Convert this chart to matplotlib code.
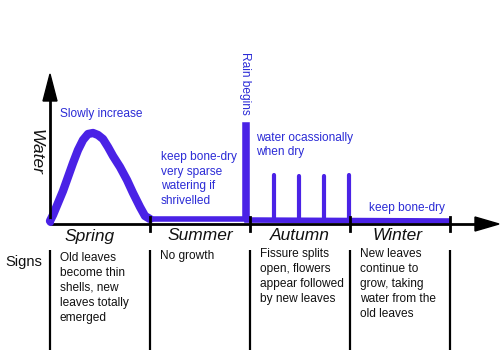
import matplotlib
matplotlib.use("Agg")
import matplotlib.pyplot as plt
from matplotlib.patches import Polygon

plt.rcParams['font.family'] = ['Liberation Sans', 'DejaVu Sans']

# Seasons along the time axis and their boundaries
seasons = ["Spring", "Summer", "Autumn", "Winter"]
season_label_x = [90, 200, 300, 397]
season_edges = [50, 150, 250, 350, 450]

# Water level curve (canvas units, larger y = lower on the page)
hump_x = [50, 53, 58, 63, 68, 73, 78, 83, 88, 93, 98, 103, 108, 113, 120, 127, 133, 140, 145, 150]
hump_y = [221, 215, 203, 191, 177, 163, 150, 140, 134, 133, 135, 139, 147, 156, 167, 180, 193, 207, 216, 219]
dry_x = [150, 245, 245, 247, 247, 450]
dry_y = [219, 219, 125, 125, 220, 221]
spike_x = [274, 299, 324, 349]
spike_top = [175, 176, 176, 175]
base_level = 220

# Care notes drawn above the curve
notes = [
    (60, 114, "Slowly increase"),
    (161, 179, "keep bone-dry\nvery sparse\nwatering if\nshrivelled"),
    (256, 145, "water ocassionally\nwhen dry"),
    (369, 208, "keep bone-dry"),
]
rain_label = "Rain begins"

# Signs for each season
signs = [
    "Old leaves\nbecome thin\nshells, new\nleaves totally\nemerged",
    "No growth",
    "Fissure splits\nopen, flowers\nappear followed\nby new leaves",
    "New leaves\ncontinue to\ngrow, taking\nwater from the\nold leaves",
]
signs_top = [252, 250, 248, 248]

line_blue = "#4a22e6"
text_blue = "#2b2bd6"
ink = "#111111"

fig = plt.figure(figsize=(5, 3.5), dpi=100)
ax = fig.add_axes([0, 0, 1, 1])
ax.set_xlim(0, 500)
ax.set_ylim(350, 0)
ax.axis("off")

# Axes with arrowheads
axis_y = 224
ax.plot([50, 50], [axis_y, 98], color="black", lw=2, solid_capstyle="butt", zorder=3)
ax.add_patch(Polygon([[43, 101], [57, 101], [50, 74]], closed=True, color="black", zorder=3))
ax.plot([50, 476], [axis_y, axis_y], color="black", lw=2, solid_capstyle="butt", zorder=3)
ax.add_patch(Polygon([[475, 217], [475, 231], [499, 224]], closed=True, color="black", zorder=3))
for x in season_edges[1:]:
    ax.plot([x, x], [217, 231], color="black", lw=2, zorder=3)

# Water curve
ax.plot(hump_x, hump_y, color=line_blue, lw=6, solid_capstyle="round", solid_joinstyle="round", zorder=2)
ax.plot(dry_x, dry_y, color=line_blue, lw=4, solid_capstyle="butt", solid_joinstyle="miter", zorder=2)
for x, top in zip(spike_x, spike_top):
    ax.plot([x, x], [base_level, top], color=line_blue, lw=3, solid_capstyle="round", zorder=2)
ax.plot([50], [222], "o", color=line_blue, ms=4, zorder=4)

# Axis labels
ax.text(36, 152, "Water", rotation=-90, style="italic", fontsize=12.5,
        ha="center", va="center", color=ink)
for name, x in zip(seasons, season_label_x):
    ax.text(x, 236, name, style="italic", fontsize=12.5,
            ha="center", va="center", color=ink)

# Notes in blue
for x, y, txt in notes:
    ax.text(x, y, txt, fontsize=8.6, color=text_blue, ha="left", va="center", linespacing=1.32)
ax.text(245, 83, rain_label, rotation=-90, fontsize=8.6, color=text_blue, ha="center", va="center")

# Signs table
ax.text(5, 262, "Signs", fontsize=10.5, color=ink, ha="left", va="center")
for x in season_edges:
    ax.plot([x, x], [250, 350], color="black", lw=1.6, solid_capstyle="butt")
for x, top, txt in zip(season_edges[:-1], signs_top, signs):
    ax.text(x + 10, top, txt, fontsize=8.6, color=ink, ha="left", va="top", linespacing=1.32)

fig.savefig("out.png", dpi=100, facecolor="white")
